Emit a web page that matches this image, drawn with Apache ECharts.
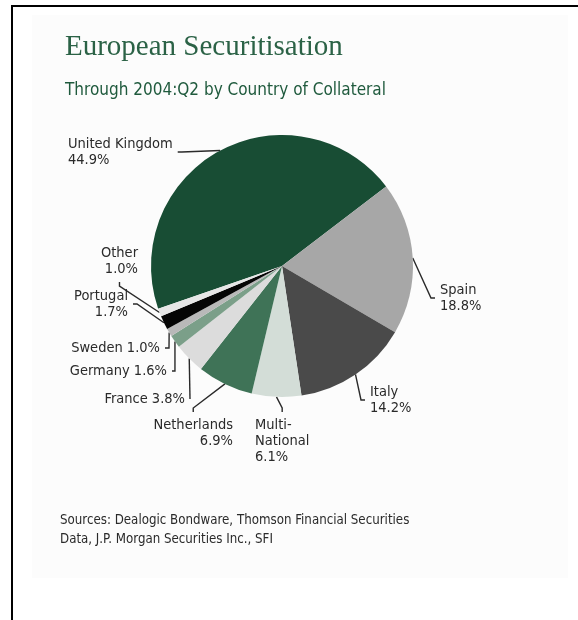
<!DOCTYPE html>
<html>
<head>
<meta charset="utf-8">
<script src="https://cdn.jsdelivr.net/npm/echarts@6/dist/echarts.min.js"></script>
<style>
html,body{margin:0;padding:0;background:#fff;}
#chart{width:578px;height:620px;}
</style>
</head>
<body>
<div id="chart"></div>
<script>
var categories = ['United Kingdom','Spain','Italy','Multi-National','Netherlands','France','Germany','Sweden','Portugal','Other'];
var shares = [44.9, 18.8, 14.2, 6.1, 6.9, 3.8, 1.6, 1.0, 1.7, 1.0];
var sliceColors = ['#184d34','#a7a7a7','#4a4a4a','#d3ddd7','#3f7357','#dcdcdc','#7b9f89','#b9b9b9','#050505','#e6e6e6'];
var titleText = 'European Securitisation';
var subtitleText = 'Through 2004:Q2 by Country of Collateral';
var sourceLines = ['Sources: Dealogic Bondware, Thomson Financial Securities', 'Data, J.P. Morgan Securities Inc., SFI'];

var narrow = '"Liberation Sans Narrow","DejaVu Sans Condensed","Roboto Condensed",sans-serif';
var singleLine = {'Sweden':1,'Germany':1,'France':1};
function labelName(n){
  if(n === 'Multi-National') return 'Multi-\nNational';
  return n;
}
// label placement (layout only): [x, y, align]
var PAD = 5;
var labelPlace = [
  [68, 136, 'left'],
  [440, 282, 'left'],
  [370, 384, 'left'],
  [255, 417, 'left'],
  [233, 417, 'right'],
  [185, 391, 'right'],
  [167, 363, 'right'],
  [160, 340, 'right'],
  [128, 288, 'right'],
  [138, 245, 'right']
];

var data = categories.map(function(c,i){
  return {name:c, value:shares[i], itemStyle:{color:sliceColors[i]}};
});

var chart = echarts.init(document.getElementById('chart'), null, {renderer:'canvas'});
chart.setOption({
  backgroundColor:'#ffffff',
  animation:false,
  title:{
    text:titleText,
    subtext:subtitleText,
    left:60, top:28,
    itemGap:20,
    textStyle:{fontFamily:'"Liberation Serif","DejaVu Serif",serif',fontSize:29,fontWeight:'normal',color:'#2b6246'},
    subtextStyle:{fontFamily:narrow,fontSize:17,color:'#1f5a3d'}
  },
  graphic:[
    {type:'rect',z:-10,shape:{x:32,y:15,width:536,height:563},style:{fill:'#fcfcfc'}},
    {type:'line',shape:{x1:11,y1:6,x2:578,y2:6},style:{stroke:'#000',lineWidth:2}},
    {type:'line',shape:{x1:12,y1:5,x2:12,y2:620},style:{stroke:'#000',lineWidth:2}},
    {type:'text',left:60,top:511,style:{text:sourceLines.join('\n'),fontFamily:narrow,fontSize:13.2,lineHeight:19,fill:'#2a2a2a'}}
  ],
  series:[{
    type:'pie',
    center:[282,266],
    radius:[0,131],
    startAngle:199,
    clockwise:true,
    avoidLabelOverlap:false,
    data:data,
    label:{
      show:true,
      position:'outside',
      fontFamily:narrow,
      fontSize:14.5,
      lineHeight:16,
      color:'#2a2a2a',
      padding:[PAD, PAD],
      formatter:function(p){
        var v = p.value.toFixed(1)+'%';
        if(singleLine[p.name]) return p.name+' '+v;
        return labelName(p.name)+'\n'+v;
      }
    },
    labelLayout:function(p){
      var L = labelPlace[p.dataIndex];
      var x = L[2] === 'left' ? L[0] - PAD : L[0] + PAD;
      return {x:x, y:L[1] - PAD, align:L[2], verticalAlign:'top'};
    },
    labelLine:{show:true,length:12,length2:4,lineStyle:{color:'#2a2a2a',width:1.4}},
    itemStyle:{borderWidth:0}
  }]
});
</script>
</body>
</html>
